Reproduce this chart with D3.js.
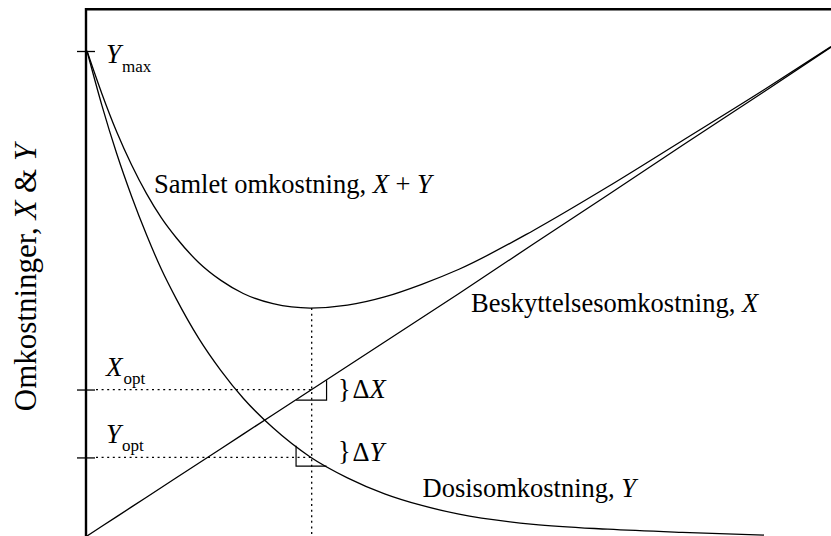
<!DOCTYPE html>
<html>
<head>
<meta charset="utf-8">
<script src="https://cdn.jsdelivr.net/npm/d3@7"></script>
<style>
  body { margin: 0; background: #fff; }
  svg { display: block; }
  text { font-family: 'Liberation Serif', 'Times New Roman', serif; fill: #000; }
</style>
</head>
<body>
<script>
const width = 831;
const height = 536;

// protection level (arbitrary units) where the curves were read
const level = [0, 2, 4, 6, 8, 10, 12, 15, 18, 21, 25, 30, 35, 40, 45, 50, 60, 70, 80, 91, 100];
// protection cost, X
const costX = [0, 2, 4, 6, 8, 10, 12, 15, 18, 21, 25, 30, 35, 40, 45, 50, 60.2, 70.3, 80.5, 91.6, 100.8];
// dose cost, Y (stops before the right edge)
const costY = [100, 88.8, 78.8, 70.0, 62.1, 55.0, 48.9, 40.8, 34.1, 28.4, 22.3, 16.3, 12.0, 8.7, 6.3, 4.5, 2.4, 1.4, 0.75, 0.2, null];
// total cost, X + Y
const costTotal = [100, 91.2, 83.3, 76.5, 70.6, 65.6, 61.5, 56.4, 52.7, 50.0, 47.9, 47.0, 47.6, 49.3, 51.9, 55.0, 63.0, 72.0, 81.5, 92.0, 100.9];

// optimum and marked levels
const optLevel = 30.2;
const yMax = 100;
const xOpt = 30.2;
const yOpt = 16.2;
const totalMin = 47.0;
// little slope triangles round the optimum
const triLevels = [28.1, 32.2];
const triX = [28.0, 32.1];
const triY = [18.6, 14.4];

const x = d3.scaleLinear().domain([0, 100]).range([87, 831]);
const y = d3.scaleLinear().domain([0, 100]).range([536, 51]);

const svg = d3.select('body').append('svg')
  .attr('width', width)
  .attr('height', height);

const lineGen = d3.line()
  .defined(d => d[1] !== null)
  .x(d => x(d[0]))
  .y(d => y(d[1]));

const curves = [
  { values: costX, curve: d3.curveLinear },
  { values: costY, curve: d3.curveMonotoneX },
  { values: costTotal, curve: d3.curveMonotoneX }
];

svg.append('g')
  .selectAll('path')
  .data(curves)
  .enter().append('path')
    .attr('fill', 'none')
    .attr('stroke', '#000')
    .attr('stroke-width', 1.3)
    .attr('d', c => lineGen.curve(c.curve)(level.map((l, i) => [l, c.values[i]])));

// dotted guides
const guides = svg.append('g')
  .attr('stroke', '#000')
  .attr('stroke-width', 1.3)
  .attr('stroke-dasharray', '2,3.6');

guides.append('line')
  .attr('x1', x(optLevel)).attr('x2', x(optLevel))
  .attr('y1', y(totalMin)).attr('y2', height);

[xOpt, yOpt].forEach(v => {
  guides.append('line')
    .attr('x1', x(0) + 9).attr('x2', x(optLevel))
    .attr('y1', y(v)).attr('y2', y(v));
});

// slope triangles
const tri = svg.append('g')
  .attr('fill', 'none')
  .attr('stroke', '#000')
  .attr('stroke-width', 1.2);

tri.append('path')
  .attr('d', d3.line()([
    [x(triLevels[0]), y(triX[0])],
    [x(triLevels[1]), y(triX[0])],
    [x(triLevels[1]), y(triX[1])]
  ]));

tri.append('path')
  .attr('d', d3.line()([
    [x(triLevels[0]), y(triY[0])],
    [x(triLevels[0]), y(triY[1])],
    [x(triLevels[1]), y(triY[1])]
  ]));

// axis with crossing ticks
const axis = svg.append('g')
  .attr('transform', `translate(${x(0) - 1},0)`)
  .call(d3.axisLeft(y).tickValues([yMax, xOpt, yOpt]).tickFormat('').tickSizeOuter(0));
axis.select('.domain').remove();
axis.selectAll('.tick line')
  .attr('x1', -9)
  .attr('x2', 9)
  .attr('stroke', '#000')
  .attr('stroke-width', 1.3);

// frame
svg.append('path')
  .attr('fill', 'none')
  .attr('stroke', '#000')
  .attr('stroke-width', 2.4)
  .attr('d', `M${x(0) - 1},${height} V9.3 H${width}`);

// tick labels with subscripts
function subLabel(big, small, yBase, ySub) {
  const t = svg.append('text').attr('x', 106).attr('y', yBase);
  t.append('tspan').attr('font-size', 27).attr('font-style', 'italic').text(big);
  t.append('tspan').attr('font-size', 17).attr('y', ySub).attr('dx', 1).text(small);
}
subLabel('Y', 'max', y(yMax) + 12.3, y(yMax) + 20.7);
subLabel('X', 'opt', y(xOpt) - 13.5, y(xOpt) - 6);
subLabel('Y', 'opt', y(yOpt) - 14, y(yOpt) - 6.5);

// curve labels
function curveLabel(px, py, parts) {
  const t = svg.append('text').attr('x', px).attr('y', py).attr('font-size', 26.5);
  parts.forEach(p => {
    t.append('tspan').attr('font-style', p[1] ? 'italic' : 'normal').text(p[0]);
  });
  return t;
}
curveLabel(154, 193, [['Samlet omkostning, ', false], ['X', true], [' + ', false], ['Y', true]]);
curveLabel(471, 311.7, [['Beskyttelsesomkostning, ', false], ['X', true]]);
curveLabel(422.5, 497.3, [['Dosisomkostning, ', false], ['Y', true]]);

// braces with deltas
curveLabel(338, y(xOpt) + 8.5, [['}', false]]);
curveLabel(352.5, y(xOpt) + 8.5, [['\u0394', false], ['X', true]]);
curveLabel(338, y(yOpt) + 2.8, [['}', false]]);
curveLabel(352.5, y(yOpt) + 3.2, [['\u0394', false], ['Y', true]]);

// y axis title
const title = svg.append('text')
  .attr('transform', 'translate(35.5,277.5) rotate(-90)')
  .attr('text-anchor', 'middle')
  .attr('font-size', 31);
[['Omkostninger, ', false], ['X', true], [' & ', false], ['Y', true]].forEach(p => {
  title.append('tspan').attr('font-style', p[1] ? 'italic' : 'normal').text(p[0]);
});
</script>
</body>
</html>
